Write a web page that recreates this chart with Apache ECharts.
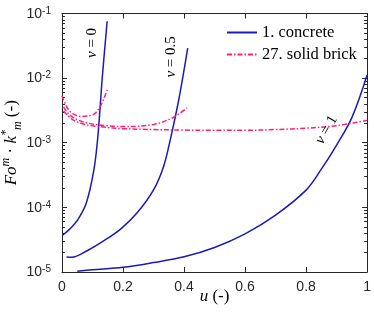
<!DOCTYPE html>
<html><head><meta charset="utf-8">
<script src="https://cdn.jsdelivr.net/npm/echarts@6/dist/echarts.min.js"></script>
<style>html,body{margin:0;padding:0;background:#fff}#c{width:374px;height:318px}</style>
</head><body><div id="c"></div>
<script>
// ---- data ----
const uConcreteV0 = [0.001, 0.026, 0.053, 0.080, 0.1045, 0.1175, 0.1317, 0.148];
const fConcreteV0 = [3.67e-5, 4.65e-5, 6.6e-5, 1.18e-4, 3.8e-4, 1.24e-3, 9.8e-3, 7.6e-2];
const uConcreteV05 = [0.015, 0.031, 0.085, 0.139, 0.193, 0.247, 0.301, 0.333, 0.355, 0.38, 0.398, 0.412];
const fConcreteV05 = [1.71e-5, 1.69e-5, 2.17e-5, 3.08e-5, 4.65e-5, 8.3e-5, 1.9e-4, 4.3e-4, 1.12e-3, 3.98e-3, 1.17e-2, 2.92e-2];
const uConcreteV1 = [0.05, 0.1, 0.2, 0.3, 0.4, 0.5, 0.6, 0.7, 0.8, 0.85, 0.9, 0.95, 1.0];
const fConcreteV1 = [1.03e-5, 1.08e-5, 1.18e-5, 1.4e-5, 1.72e-5, 2.4e-5, 3.9e-5, 7.6e-5, 1.85e-4, 3.9e-4, 9.2e-4, 2.45e-3, 1.12e-2];
const uBrickV0 = [0, 0.02, 0.04, 0.0625, 0.085, 0.106, 0.127, 0.14, 0.15];
const fBrickV0 = [5.35e-3, 3.3e-3, 2.75e-3, 2.55e-3, 2.6e-3, 2.8e-3, 3.76e-3, 5.2e-3, 6.9e-3];
const uBrickV05 = [0.005, 0.02, 0.04, 0.07, 0.1, 0.15, 0.2, 0.25, 0.3, 0.33, 0.37, 0.41];
const fBrickV05 = [3.6e-3, 2.85e-3, 2.4e-3, 2.1e-3, 1.95e-3, 1.83e-3, 1.78e-3, 1.8e-3, 1.92e-3, 2.1e-3, 2.55e-3, 3.46e-3];
const uBrickV1 = [0.005, 0.02, 0.04, 0.07, 0.1, 0.15, 0.2, 0.3, 0.4, 0.5, 0.6, 0.7, 0.8, 0.9, 1.0];
const fBrickV1 = [3.1e-3, 2.6e-3, 2.2e-3, 1.95e-3, 1.83e-3, 1.72e-3, 1.65e-3, 1.6e-3, 1.57e-3, 1.56e-3, 1.56e-3, 1.6e-3, 1.68e-3, 1.84e-3, 2.22e-3];

const seriesNames = ['1. concrete', '27. solid brick'];
const xTicks = [0, 0.2, 0.4, 0.6, 0.8, 1];
const yMajorTicks = [1e-5, 1e-4, 1e-3, 1e-2, 1e-1];
const yTickExponents = ['-5', '-4', '-3', '-2', '-1'];
const curveLabels = ['v = 0', 'v = 0.5', 'v = 1'];

// ---- helpers ----
const zip = (u, f) => u.map((x, i) => [x, f[i]]);
const yMinorTicks = [];
for (let d = 0; d < yMajorTicks.length - 1; d++) for (let k = 2; k <= 9; k++) yMinorTicks.push(k * yMajorTicks[d]);

const AX = '#262626';
const BLUE = '#1a1ab8';
const PINK = '#ff1e78';
const SERIF = '"Liberation Serif", "Times New Roman", serif';
const SANS = '"Liberation Sans", Arial, sans-serif';

function yLabel(v) {
  const e = Math.round(Math.log10(v));
  const i = yMajorTicks.findIndex(t => Math.round(Math.log10(t)) === e);
  return '{b|10}{s|' + (i >= 0 ? yTickExponents[i] : String(e)) + '}';
}

const logAxisBase = { type: 'log', logBase: 10, min: yMajorTicks[0], max: yMajorTicks[yMajorTicks.length - 1], gridIndex: 0, splitLine: { show: false }, minorTick: { show: false } };
const xAxisBase = { type: 'value', min: xTicks[0], max: xTicks[xTicks.length - 1], interval: 0.2, gridIndex: 0, splitLine: { show: false } };

const blueLine = { color: BLUE, width: 1.5 };
const pinkLine = { color: PINK, width: 1.5, type: [5, 2, 1.5, 2] };
function mk(name, data, ls, color) {
  return { type: 'line', name, data, showSymbol: false, symbol: 'circle', symbolSize: 0, smooth: 0.35, lineStyle: ls, itemStyle: { color }, color, xAxisIndex: 0, yAxisIndex: 0, z: 3 };
}

const chart = echarts.init(document.getElementById('c'), null, { renderer: 'canvas' });
chart.setOption({
  animation: false,
  backgroundColor: '#fff',
  grid: { left: 62, right: 3, top: 10, bottom: 46, containLabel: false },
  legend: {
    data: seriesNames, orient: 'vertical', left: 226, top: 24, padding: 0, itemGap: 5,
    itemWidth: 30, itemHeight: 14, selectedMode: false,
    itemStyle: { opacity: 0, color: 'rgba(0,0,0,0)', borderWidth: 0 },
    textStyle: { fontFamily: SERIF, fontSize: 16.5, color: '#000' }
  },
  xAxis: [
    Object.assign({}, xAxisBase, {
      position: 'bottom',
      axisLine: { show: true, onZero: false, lineStyle: { color: AX, width: 1 } },
      axisTick: { show: true, inside: true, length: 5, lineStyle: { color: AX } },
      axisLabel: { show: true, margin: 8, color: AX, fontFamily: SANS, fontSize: 14, formatter: v => String(+v.toFixed(1)) }
    }),
    Object.assign({}, xAxisBase, {
      position: 'top',
      axisLine: { show: true, onZero: false, lineStyle: { color: AX, width: 1 } },
      axisTick: { show: true, inside: true, length: 5, lineStyle: { color: AX } },
      axisLabel: { show: false }
    })
  ],
  yAxis: [
    Object.assign({}, logAxisBase, {
      position: 'left',
      axisLine: { show: true, lineStyle: { color: AX, width: 1 } },
      axisTick: { show: true, inside: true, length: 5, lineStyle: { color: AX } },
      axisLabel: {
        show: true, margin: 11, formatter: yLabel, color: AX,
        rich: {
          b: { fontFamily: SANS, fontSize: 14, color: AX, lineHeight: 14, padding: [7, 0, 0, 0], verticalAlign: 'bottom' },
          s: { fontFamily: SANS, fontSize: 10, color: AX, lineHeight: 15, verticalAlign: 'top' }
        }
      }
    }),
    Object.assign({}, logAxisBase, {
      position: 'left',
      axisLine: { show: false },
      axisTick: { show: true, inside: true, length: 3, customValues: yMinorTicks, lineStyle: { color: AX } },
      axisLabel: { show: false }
    }),
    Object.assign({}, logAxisBase, {
      position: 'right',
      axisLine: { show: true, lineStyle: { color: AX, width: 1 } },
      axisTick: { show: true, inside: true, length: 5, lineStyle: { color: AX } },
      axisLabel: { show: false }
    }),
    Object.assign({}, logAxisBase, {
      position: 'right',
      axisLine: { show: false },
      axisTick: { show: true, inside: true, length: 3, customValues: yMinorTicks, lineStyle: { color: AX } },
      axisLabel: { show: false }
    })
  ],
  series: [
    mk(seriesNames[0], zip(uConcreteV0, fConcreteV0), blueLine, BLUE),
    mk(seriesNames[0], zip(uConcreteV05, fConcreteV05), blueLine, BLUE),
    mk(seriesNames[0], zip(uConcreteV1, fConcreteV1), blueLine, BLUE),
    mk(seriesNames[1], zip(uBrickV0, fBrickV0), pinkLine, PINK),
    mk(seriesNames[1], zip(uBrickV05, fBrickV05), pinkLine, PINK),
    mk(seriesNames[1], zip(uBrickV1, fBrickV1), pinkLine, PINK)
  ]
});

// annotations anchored in data space
const annot = [
  { u: 0.100, f: 0.035, rot: 90 },
  { u: 0.359, f: 0.0213, rot: 90 },
  { u: 0.867, f: 1.58e-3, rot: 60 }
];
const find = { xAxisIndex: 0, yAxisIndex: 0 };
const richV = {
  i: { fontFamily: SERIF, fontStyle: 'italic', fontSize: 15, color: '#000' },
  n: { fontFamily: SERIF, fontSize: 15, color: '#000' }
};
const graphics = annot.map((a, k) => {
  const p = chart.convertToPixel(find, [a.u, a.f]);
  const txt = curveLabels[k].replace(/^v/, '{i|v}{n|') + '}';
  return { type: 'text', x: p[0], y: p[1], rotation: a.rot * Math.PI / 180, z: 10,
    style: { text: txt, rich: richV, align: 'center', verticalAlign: 'middle' } };
});
const gl = chart.convertToPixel(find, [0, 1e-5]);
const gr = chart.convertToPixel(find, [1, 1e-1]);
// y-axis title
graphics.push({
  type: 'text', x: 12, y: (gl[1] + gr[1]) / 2, rotation: Math.PI / 2, z: 10,
  style: {
    text: '{i|Fo}{sp|m}{n| · }{i|k}{sp|*}{sb|m}{n| (-)}', align: 'center', verticalAlign: 'middle',
    rich: {
      i: { fontFamily: SERIF, fontStyle: 'italic', fontSize: 17, color: '#000', lineHeight: 24 },
      n: { fontFamily: SERIF, fontSize: 17, color: '#000', lineHeight: 24 },
      sp: { fontFamily: SERIF, fontStyle: 'italic', fontSize: 12, color: '#000', lineHeight: 14, verticalAlign: 'top' },
      sb: { fontFamily: SERIF, fontStyle: 'italic', fontSize: 12, color: '#000', lineHeight: 14, verticalAlign: 'bottom' }
    }
  }
});
// x-axis title
graphics.push({
  type: 'text', x: (gl[0] + gr[0]) / 2, y: 297, z: 10,
  style: {
    text: '{i|u}{n| (-)}', align: 'center', verticalAlign: 'middle',
    rich: {
      i: { fontFamily: SERIF, fontStyle: 'italic', fontSize: 17, color: '#000' },
      n: { fontFamily: SERIF, fontSize: 17, color: '#000' }
    }
  }
});
chart.setOption({ graphic: graphics });
</script>
</body></html>
